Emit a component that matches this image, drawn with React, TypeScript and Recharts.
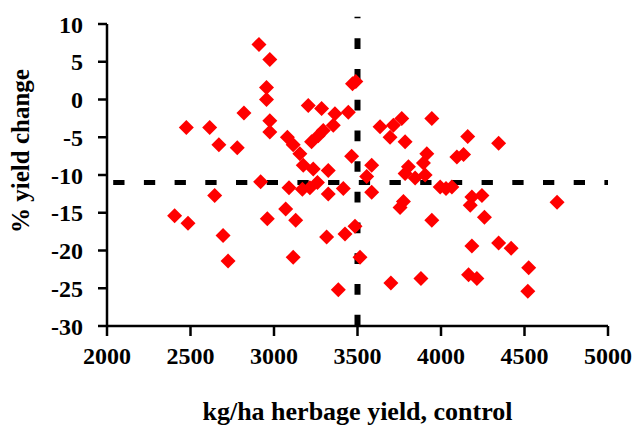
import React from "react";
import {
  ReferenceLine, Scatter, ScatterChart, XAxis, YAxis,
} from "recharts";

// [control herbage yield kg/ha, % yield change]
const below3000: [number, number][] = [
  [2910, 7.3], [2975, 5.3], [2955, 1.6], [2955, 0.0], [2820, -1.8], [2975, -2.8],
  [2975, -4.3], [2475, -3.7], [2615, -3.7], [2670, -6.0], [2780, -6.4], [2920, -10.9],
  [2645, -12.7], [2405, -15.4], [2485, -16.4], [2695, -18.0], [2725, -21.4], [2960, -15.8],
];
const from3000: [number, number][] = [
  [3470, 2.1], [3490, 2.4], [3205, -0.8], [3285, -1.2], [3365, -1.9], [3445, -1.7],
  [3355, -3.4], [3295, -4.1], [3265, -4.8], [3080, -5.0], [3225, -5.6], [3115, -6.0],
  [3155, -7.2], [3465, -7.5], [3175, -8.7], [3235, -9.2], [3325, -9.4], [3090, -11.7],
  [3170, -11.9], [3215, -11.7], [3260, -11.0], [3325, -12.5], [3415, -11.8], [3070, -14.5],
  [3130, -16.0], [3315, -18.2], [3425, -17.8], [3485, -16.8], [3115, -20.9], [3385, -25.2],
];
const from3500: [number, number][] = [
  [3515, -20.9], [3555, -10.2], [3585, -12.3], [3585, -8.7], [3635, -3.6], [3715, -3.4],
  [3695, -5.0], [3765, -2.5], [3785, -5.6], [3945, -2.5], [3805, -8.9], [3785, -9.8],
  [3845, -10.4], [3905, -10.0], [3915, -7.2], [3895, -8.4], [3775, -13.5], [3755, -14.3],
  [3945, -16.0], [3700, -24.3], [3880, -23.7],
];
const from4000: [number, number][] = [
  [3995, -11.6], [4030, -11.8], [4065, -11.6], [4160, -4.9], [4345, -5.8], [4095, -7.6],
  [4135, -7.3], [4185, -12.9], [4245, -12.7], [4175, -14.0], [4260, -15.6], [4695, -13.6],
  [4185, -19.4], [4345, -19.0], [4420, -19.7], [4165, -23.2], [4215, -23.7], [4525, -22.3],
  [4520, -25.4],
];

const xTicks = [2000, 2500, 3000, 3500, 4000, 4500, 5000];
const yTicks = [-30, -25, -20, -15, -10, -5, 0, 5, 10];
const meanControl = 3500;
const meanChange = -11;

const points = [...below3000, ...from3000, ...from3500, ...from4000].map(([x, y]) => ({ x, y }));

const FONT = "'Liberation Serif', 'Times New Roman', serif";
const tickStyle = { fill: "#000", fontSize: 24, fontWeight: 700, fontFamily: FONT };

const Diamond = (props: any) => {
  const { cx, cy } = props;
  const r = 7.5;
  return (
    <path
      d={`M${cx},${cy - r}L${cx + r},${cy}L${cx},${cy + r}L${cx - r},${cy}Z`}
      fill="#FF0000"
    />
  );
};

const YLabel = (props: any) => {
  const { x, y, height } = props.viewBox;
  const cx = x + 12;
  const cy = y + height / 2 - 24;
  return (
    <text
      x={cx}
      y={cy}
      transform={`rotate(-90 ${cx} ${cy})`}
      textAnchor="middle"
      dominantBaseline="central"
      fill="#000"
      fontSize={25}
      fontWeight={700}
      fontFamily={FONT}
    >
      % yield change
    </text>
  );
};

export default function App() {
  return (
    <>
      <style>{"body { margin: 0; overflow: hidden; }"}</style>
      <ScatterChart width={637} height={428} margin={{ top: 24, right: 29, bottom: 0, left: 8 }}>
        <XAxis
          type="number"
          dataKey="x"
          domain={[2000, 5000]}
          ticks={xTicks}
          height={102}
          tick={tickStyle}
          tickSize={10}
          tickMargin={11}
          axisLine={{ stroke: "#000", strokeWidth: 2.5 }}
          tickLine={{ stroke: "#000", strokeWidth: 2.5 }}
          allowDataOverflow
          label={{
            value: "kg/ha herbage yield, control",
            position: "insideBottom",
            offset: 8,
            fill: "#000",
            fontSize: 26,
            fontWeight: 700,
            fontFamily: FONT,
          }}
        />
        <YAxis
          type="number"
          dataKey="y"
          domain={[-30, 10]}
          ticks={yTicks}
          width={99}
          tick={tickStyle}
          tickSize={9}
          tickMargin={15}
          axisLine={{ stroke: "#000", strokeWidth: 2.5 }}
          tickLine={{ stroke: "#000", strokeWidth: 2.5 }}
          allowDataOverflow
          label={<YLabel />}
        />
        <ReferenceLine
          segment={[{ x: 2000, y: meanChange }, { x: 5000, y: meanChange }]}
          ifOverflow="visible"
          stroke="#000"
          strokeWidth={5}
          strokeDasharray="11.3 19.4"
          strokeDashoffset={24.5}
        />
        <ReferenceLine
          segment={[{ x: meanControl, y: 10.95 }, { x: meanControl, y: -30 }]}
          ifOverflow="visible"
          stroke="#000"
          strokeWidth={6}
          strokeDasharray="10.7 20"
          strokeDashoffset={9.2}
        />
        <Scatter data={points} shape={<Diamond />} isAnimationActive={false} />
      </ScatterChart>
    </>
  );
}
